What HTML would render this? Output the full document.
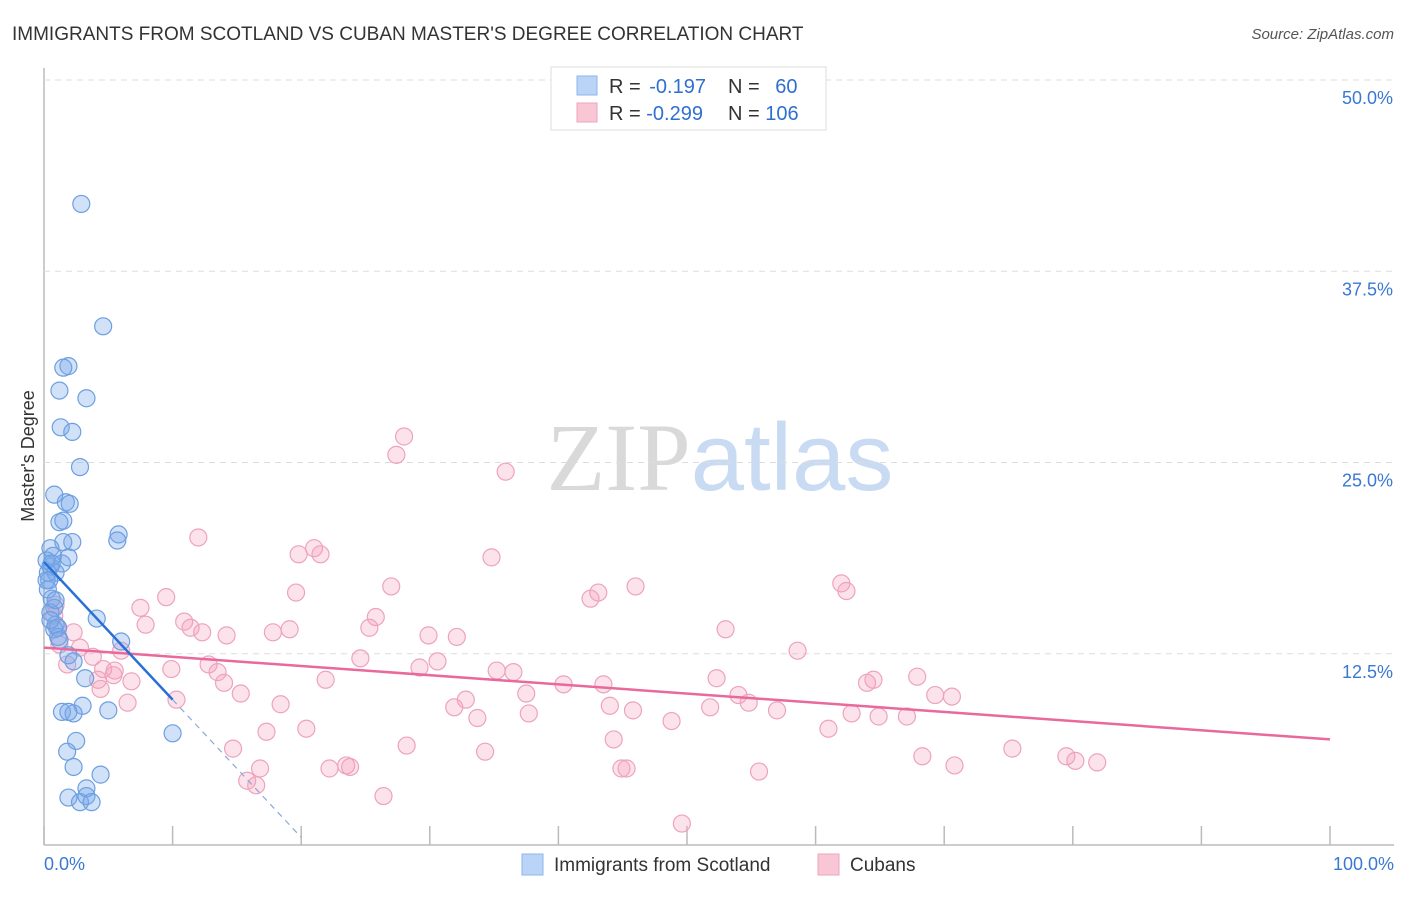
<!DOCTYPE html>
<html><head><meta charset="utf-8">
<style>
body{margin:0;background:#fff;font-family:"Liberation Sans",sans-serif;}
svg text{font-family:"Liberation Sans",sans-serif;}
</style></head>
<body>
<svg id="chart" width="1406" height="892" viewBox="0 0 1406 892" xmlns="http://www.w3.org/2000/svg">
<text x="12" y="40" font-size="19" fill="#333">IMMIGRANTS FROM SCOTLAND VS CUBAN MASTER'S DEGREE CORRELATION CHART</text>
<text x="1394" y="39" font-size="15" fill="#555" text-anchor="end" font-style="italic">Source: ZipAtlas.com</text>
<text x="720" y="490" font-size="96" text-anchor="middle"><tspan fill="#d9d9d9" font-family="Liberation Serif">ZIP</tspan><tspan fill="#c8dbf2">atlas</tspan></text>
<text transform="translate(34,456) rotate(-90)" font-size="18" fill="#333" text-anchor="middle">Master's Degree</text>
<g id="grid"></g>
<g id="marks"></g>
<g>
<rect x="551" y="67" width="275" height="63" fill="#fff" stroke="#ddd"/>
<rect x="577" y="76" width="20" height="19" fill="#b9d4f6" stroke="#8fb6e8"/>
<rect x="577" y="103" width="20" height="19" fill="#f9c6d6" stroke="#eea4bd"/>
<text x="609" y="93" font-size="20" fill="#333">R = <tspan fill="#2f6fd0" dx="3">-0.197</tspan></text>
<text x="728" y="93" font-size="20" fill="#333">N = <tspan fill="#2f6fd0" dx="10">60</tspan></text>
<text x="609" y="120" font-size="20" fill="#333">R = <tspan fill="#2f6fd0">-0.299</tspan></text>
<text x="728" y="120" font-size="20" fill="#333">N = <tspan fill="#2f6fd0">106</tspan></text>
</g>
<g>
<rect x="522" y="854" width="21" height="21" fill="#b9d4f6" stroke="#8fb6e8"/>
<text x="554" y="871" font-size="19" fill="#333">Immigrants from Scotland</text>
<rect x="818" y="854" width="21" height="21" fill="#f9c6d6" stroke="#eea4bd"/>
<text x="850" y="871" font-size="19" fill="#333">Cubans</text>
</g>
</svg>
<script>
const yTicks=[12.5,25,37.5,50];
const yTickLabels=["12.5%","25.0%","37.5%","50.0%"];
const xTickVals=[0,10,20,30,40,50,60,70,80,90,100];
const xEndLabels=["0.0%","100.0%"];
const blueX=[2.9,4.6,1.9,1.5,1.2,3.3,1.3,2.2,2.8,0.8,1.7,2.0,1.2,1.5,2.2,1.5,5.8,5.7,0.5,0.7,0.5,1.4,1.9,0.3,0.9,0.4,0.6,0.8,0.5,4.1,0.9,1.1,0.8,1.1,6.0,1.9,2.3,3.2,3.0,5.0,1.4,2.3,1.9,10.0,2.5,1.8,2.3,4.4,3.3,1.9,2.8,3.3,3.7,0.2,0.2,0.3,0.5,1.2,0.6,0.9];
const blueY=[41.9,33.9,31.3,31.2,29.7,29.2,27.3,27.0,24.7,22.9,22.4,22.3,21.1,21.2,19.8,19.8,20.3,19.9,19.4,18.9,18.2,18.4,18.8,17.8,17.8,17.3,16.1,15.5,15.2,14.8,14.4,14.2,14.1,13.6,13.3,12.4,12.0,10.9,9.1,8.8,8.7,8.6,8.7,7.3,6.8,6.1,5.1,4.6,3.7,3.1,2.8,3.2,2.8,18.6,17.3,16.7,14.7,13.4,18.4,16.0];
const pinkX=[12.0,19.8,21.0,21.5,28.0,27.4,35.9,34.8,9.5,7.5,19.6,27.0,43.1,42.5,46.0,62.0,62.4,25.8,25.3,10.9,11.4,12.3,14.2,7.9,17.8,19.1,29.9,32.1,53.0,58.6,24.6,30.6,35.2,36.5,29.2,12.8,13.5,14.0,9.9,21.9,40.4,43.5,52.3,64.0,64.5,67.9,69.3,70.6,54.0,54.8,57.0,15.3,32.8,37.5,18.4,31.9,33.7,37.7,44.0,45.8,48.8,51.8,62.8,64.9,67.1,61.0,17.3,20.4,44.3,14.7,28.2,34.3,68.3,70.8,75.3,79.5,80.2,81.9,16.8,15.8,16.5,22.2,23.5,23.8,44.9,45.3,55.6,26.4,49.6,10.3,6.5,4.6,4.2,5.4,6.0,3.8,1.8,0.9,0.8,1.0,2.3,2.8,5.5,6.8,1.2,4.4];
const pinkY=[20.1,19.0,19.4,19.0,26.7,25.5,24.4,18.8,16.2,15.5,16.5,16.9,16.5,16.1,16.9,17.1,16.6,14.9,14.2,14.6,14.2,13.9,13.7,14.4,13.9,14.1,13.7,13.6,14.1,12.7,12.2,12.0,11.4,11.3,11.6,11.8,11.3,10.6,11.5,10.8,10.5,10.5,10.9,10.6,10.8,11.0,9.8,9.7,9.8,9.3,8.8,9.9,9.5,9.9,9.2,9.0,8.3,8.6,9.1,8.8,8.1,9.0,8.6,8.4,8.4,7.6,7.4,7.6,6.9,6.3,6.5,6.1,5.8,5.2,6.3,5.8,5.5,5.4,5.0,4.2,3.9,5.0,5.2,5.1,5.0,5.0,4.8,3.2,1.4,9.5,9.3,11.5,10.8,11.1,12.7,12.3,11.8,15.7,15.0,14.2,13.9,12.9,11.4,10.7,13.1,10.2];
const blueTrend=[18.5,-0.9];
const pinkTrend=[12.9,-0.06];
const blueSolidEnd=10, blueDashEnd=20;

const X0=44,X1=1330,Y0=845,Y50=80;
const sx=v=>X0+(X1-X0)*v/100;
const sy=v=>Y0-(Y0-Y50)*v/50;
const NS="http://www.w3.org/2000/svg";
function mk(tag,attrs,parent){const e=document.createElementNS(NS,tag);for(const k in attrs)e.setAttribute(k,attrs[k]);parent.appendChild(e);return e;}
const grid=document.getElementById('grid'),marks=document.getElementById('marks');
let ax=mk('line',{x1:X0,y1:68,x2:X0,y2:Y0,stroke:'#bbb','stroke-width':1.5},grid);


let bx=mk('line',{x1:X0,y1:Y0,x2:1394,y2:Y0,stroke:'#bbb','stroke-width':1.5},grid);


yTicks.forEach((t,i)=>{
  const g=mk('line',{x1:X0,y1:sy(t),x2:1394,y2:sy(t),stroke:'#ddd','stroke-dasharray':'6,5'},grid);
  
  
  const l=mk('text',{x:1393,y:sy(t)+24,'font-size':18,fill:'#3a78d4','text-anchor':'end'},grid);
  l.textContent=yTickLabels[i];
  
  
});
xTickVals.forEach(t=>{
  const k=mk('line',{x1:sx(t),y1:826,x2:sx(t),y2:Y0,stroke:'#bbb','stroke-width':1.5},grid);
  
  
});
let xl0=mk('text',{x:44,y:870,'font-size':18,fill:'#3a78d4'},grid);xl0.textContent=xEndLabels[0];


let xl1=mk('text',{x:1394,y:870,'font-size':18,fill:'#3a78d4','text-anchor':'end'},grid);xl1.textContent=xEndLabels[1];



pinkX.forEach((x,i)=>{
  const c=mk('circle',{cx:sx(x),cy:sy(pinkY[i]),r:8.5,fill:'rgba(244,160,190,0.3)',stroke:'#eda3bd','stroke-width':1.2},marks);
  
  
});
blueX.forEach((x,i)=>{
  const c=mk('circle',{cx:sx(x),cy:sy(blueY[i]),r:8.5,fill:'rgba(120,170,235,0.35)',stroke:'#6d9fe0','stroke-width':1.2},marks);
  
  
});
const pl=mk('line',{x1:sx(0),y1:sy(pinkTrend[0]),x2:sx(100),y2:sy(pinkTrend[0]+pinkTrend[1]*100),stroke:'#e8699a','stroke-width':2.5},marks);


const bl=mk('line',{x1:sx(0),y1:sy(blueTrend[0]),x2:sx(blueSolidEnd),y2:sy(blueTrend[0]+blueTrend[1]*blueSolidEnd),stroke:'#2a6fd6','stroke-width':2.5},marks);


const bd=mk('line',{x1:sx(blueSolidEnd),y1:sy(blueTrend[0]+blueTrend[1]*blueSolidEnd),x2:sx(blueDashEnd),y2:sy(blueTrend[0]+blueTrend[1]*blueDashEnd),stroke:'#8aa8d8','stroke-width':1.2,'stroke-dasharray':'6,5'},marks);


</script>
</body></html>
